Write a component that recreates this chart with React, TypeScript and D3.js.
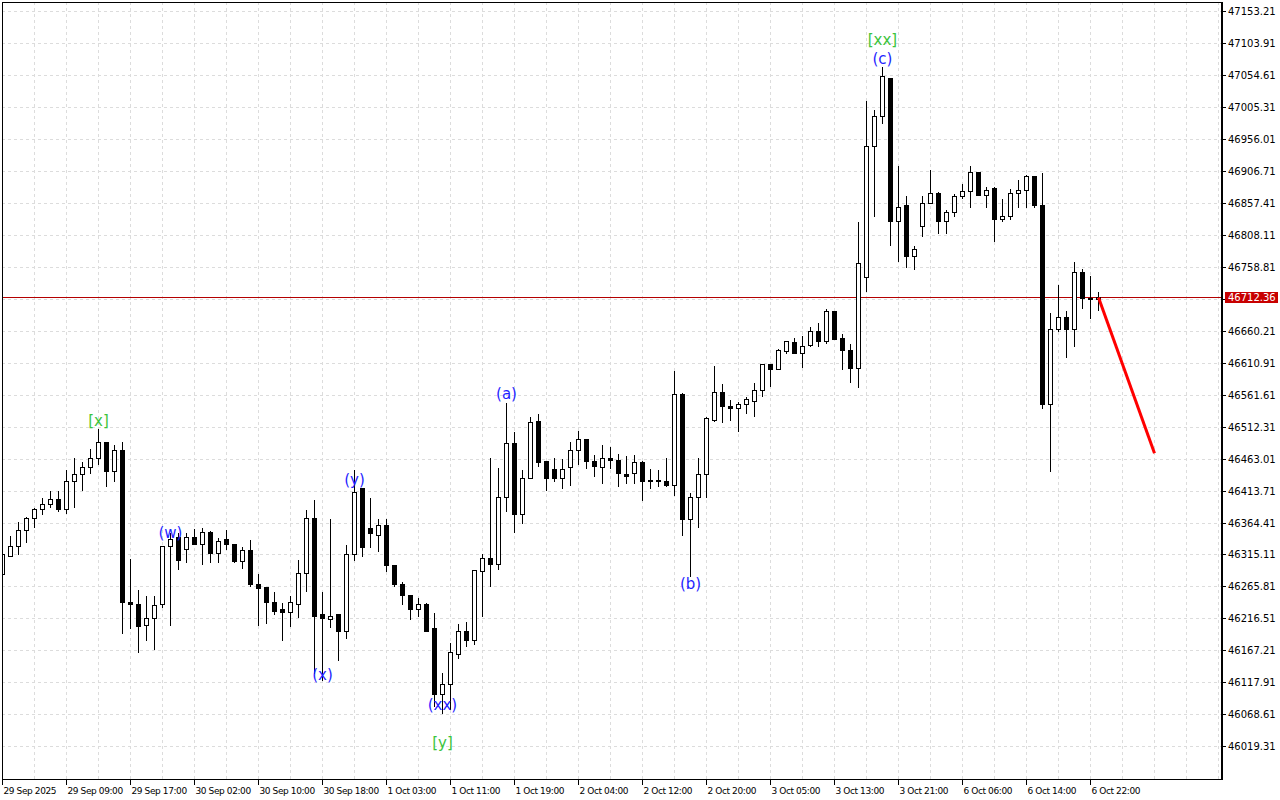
import * as d3 from 'd3';

// chart frame (px)
const W = 1280;
const H = 800;
const LEFT = 2;
const RIGHT = 1222;
const TOP = 2;
const BOTTOM = 779;

// H1 candles, 29 Sep 2025 .. 6 Oct 2025
const opens = [
  46284.2, 46313.5, 46328.9, 46352.1, 46370.6, 46384.5, 46393.7, 46401.4, 46386.0, 46427.7,
  46438.5, 46450.8, 46463.2, 46487.9, 46444.6, 46475.5, 46242.5, 46239.4, 46207.0, 46217.8,
  46239.4, 46327.4, 46341.3, 46322.8, 46341.3, 46330.5, 46350.5, 46316.6, 46338.2, 46332.0,
  46304.3, 46321.3, 46270.3, 46264.2, 46241.0, 46230.2, 46227.1, 46239.4, 46285.8, 46372.1,
  46222.5, 46216.3, 46222.5, 46196.3, 46315.1, 46416.9, 46356.7, 46345.9, 46361.3, 46298.2,
  46270.3, 46253.3, 46230.2, 46239.4, 46200.9, 46099.1, 46114.5, 46162.3, 46196.3, 46183.9,
  46288.9, 46308.9, 46299.7, 46403.0, 46486.3, 46378.3, 46432.3, 46520.3, 46458.6, 46446.2,
  46432.3, 46450.8, 46475.5, 46494.0, 46458.6, 46450.8, 46463.2, 46460.1, 46440.0, 46441.5,
  46457.0, 46430.7, 46430.7, 46429.2, 46423.0, 46563.4, 46369.1, 46404.5, 46438.5, 46523.3,
  46565.0, 46543.4, 46541.8, 46548.0, 46551.1, 46568.1, 46608.3, 46600.5, 46628.4, 46642.3,
  46625.4, 46639.0, 46659.1, 46643.9, 46690.0, 46648.3, 46630.0, 46602.1, 46743.9, 46944.5,
  46990.8, 47050.9, 46829.5, 46853.5, 46776.3, 46821.1, 46856.6, 46872.0, 46830.3, 46844.2,
  46867.4, 46876.6, 46904.4, 46870.4, 46879.7, 46833.4, 46838.0, 46872.0, 46878.1, 46898.2,
  46855.0, 46548.0, 46662.2, 46680.7, 46662.2, 46750.1, 46711.5, 46708.5,
];

const highs = [
  46318.1, 46344.4, 46366.0, 46375.2, 46387.6, 46404.5, 46413.8, 46413.8, 46446.2, 46464.7,
  46458.6, 46478.6, 46509.5, 46490.9, 46484.8, 46490.9, 46308.9, 46261.1, 46253.3, 46251.8,
  46327.4, 46349.0, 46349.0, 46349.0, 46356.7, 46358.2, 46353.6, 46342.8, 46355.1, 46332.0,
  46328.9, 46338.2, 46285.8, 46264.2, 46259.5, 46242.5, 46253.3, 46307.4, 46384.5, 46399.9,
  46258.0, 46370.6, 46222.5, 46330.5, 46446.2, 46416.9, 46404.5, 46370.6, 46370.6, 46298.2,
  46273.4, 46253.3, 46250.2, 46242.5, 46227.1, 46134.5, 46180.8, 46210.1, 46213.2, 46293.4,
  46318.1, 46464.7, 46450.8, 46549.6, 46504.9, 46447.7, 46528.0, 46532.6, 46458.6, 46464.7,
  46463.2, 46490.9, 46506.4, 46494.0, 46470.8, 46484.8, 46483.2, 46472.4, 46469.3, 46470.8,
  46460.1, 46449.2, 46446.2, 46464.7, 46599.0, 46566.5, 46410.7, 46464.7, 46528.0, 46606.7,
  46578.9, 46555.7, 46552.6, 46560.3, 46580.4, 46609.8, 46609.8, 46633.1, 46645.4, 46650.1,
  46653.1, 46668.3, 46674.5, 46694.6, 46693.0, 46656.0, 46640.6, 46830.3, 47015.5, 47001.6,
  47067.9, 47050.9, 46915.2, 46870.4, 46791.8, 46870.4, 46910.5, 46875.1, 46847.3, 46872.0,
  46887.4, 46915.2, 46905.9, 46882.8, 46884.3, 46865.8, 46879.7, 46893.6, 46901.3, 46898.2,
  46905.9, 46688.4, 46731.6, 46693.0, 46767.1, 46757.8, 46747.0, 46720.8,
];

const lows = [
  46279.6, 46312.0, 46315.1, 46333.6, 46358.2, 46376.8, 46389.1, 46382.9, 46379.8, 46387.6,
  46413.8, 46441.5, 46454.0, 46420.0, 46429.2, 46194.7, 46200.9, 46165.4, 46182.4, 46170.0,
  46234.8, 46207.0, 46293.4, 46302.8, 46330.5, 46299.7, 46302.8, 46302.8, 46324.3, 46302.8,
  46294.9, 46267.2, 46207.0, 46210.1, 46224.0, 46182.4, 46204.0, 46219.4, 46258.0, 46133.0,
  46122.2, 46202.5, 46151.6, 46187.0, 46305.9, 46312.0, 46325.9, 46319.7, 46288.9, 46265.7,
  46239.4, 46216.3, 46220.9, 46196.3, 46080.6, 46069.8, 46076.0, 46154.7, 46174.6, 46177.7,
  46220.9, 46265.7, 46293.4, 46381.4, 46350.5, 46364.4, 46432.3, 46452.3, 46413.8, 46429.2,
  46418.4, 46421.5, 46454.0, 46448.2, 46435.4, 46426.1, 46448.2, 46420.0, 46426.1, 46424.6,
  46398.4, 46416.9, 46420.0, 46420.0, 46407.6, 46344.4, 46282.6, 46358.2, 46404.5, 46520.3,
  46518.7, 46521.8, 46504.9, 46532.6, 46528.0, 46558.8, 46575.0, 46600.5, 46625.4, 46625.4,
  46603.7, 46636.0, 46636.0, 46640.6, 46646.8, 46600.5, 46580.4, 46572.7, 46722.3, 46838.0,
  46981.5, 46791.8, 46768.6, 46759.3, 46756.2, 46807.0, 46856.6, 46811.8, 46811.8, 46836.5,
  46865.8, 46851.9, 46868.9, 46851.9, 46799.3, 46828.8, 46833.4, 46850.4, 46850.4, 46851.9,
  46541.8, 46444.6, 46659.1, 46619.0, 46636.0, 46696.1, 46679.2, 46691.5,
];

const closes = [
  46315.1, 46328.9, 46352.1, 46370.6, 46384.5, 46393.7, 46401.4, 46386.0, 46427.7, 46438.5,
  46450.8, 46463.2, 46487.9, 46444.6, 46475.5, 46241.0, 46239.4, 46204.0, 46217.8, 46237.9,
  46327.4, 46339.7, 46305.9, 46341.3, 46330.5, 46350.5, 46316.6, 46336.6, 46332.0, 46304.3,
  46321.3, 46268.8, 46262.6, 46241.0, 46228.6, 46227.1, 46241.0, 46285.8, 46372.1, 46220.9,
  46217.8, 46220.9, 46196.3, 46315.1, 46412.2, 46325.9, 46347.5, 46361.3, 46298.2, 46270.3,
  46251.8, 46230.2, 46239.4, 46197.8, 46100.6, 46116.0, 46163.9, 46196.3, 46183.9, 46290.4,
  46308.9, 46299.7, 46403.0, 46486.3, 46378.3, 46432.3, 46518.7, 46457.0, 46432.3, 46432.3,
  46447.7, 46475.5, 46494.0, 46458.6, 46452.3, 46463.2, 46460.1, 46441.5, 46436.9, 46457.0,
  46429.2, 46427.7, 46427.7, 46423.0, 46563.4, 46369.1, 46404.5, 46440.0, 46524.9, 46565.0,
  46543.4, 46541.8, 46548.0, 46554.2, 46568.1, 46608.3, 46600.5, 46630.0, 46643.9, 46625.4,
  46636.0, 46659.1, 46643.9, 46690.0, 46646.8, 46630.0, 46602.1, 46764.0, 46944.5, 46990.8,
  47052.5, 46829.5, 46851.9, 46775.0, 46786.9, 46856.6, 46872.0, 46828.8, 46844.2, 46867.4,
  46876.6, 46904.4, 46870.4, 46878.1, 46831.9, 46838.0, 46872.0, 46878.1, 46898.2, 46853.5,
  46548.0, 46662.2, 46680.7, 46662.2, 46750.1, 46710.0, 46708.5, 46712.36,
];

const priceTicks = d3.range(24).map(i => +(47153.21 - 49.3 * i).toFixed(2));

const timeLabels = [
  '29 Sep 2025', '29 Sep 09:00', '29 Sep 17:00', '30 Sep 02:00', '30 Sep 10:00', '30 Sep 18:00',
  '1 Oct 03:00', '1 Oct 11:00', '1 Oct 19:00', '2 Oct 04:00', '2 Oct 12:00', '2 Oct 20:00',
  '3 Oct 05:00', '3 Oct 13:00', '3 Oct 21:00', '6 Oct 06:00', '6 Oct 14:00', '6 Oct 22:00',
];
const barsPerLabel = 8;

const lastPrice = 46712.36;

// Elliott wave marks
const waveTexts = ['[x]', '(w)', '(x)', '(y)', '(xx)', '[y]', '(a)', '(b)', '(c)', '[xx]'];
const waveBars = [12, 21, 40, 44, 55, 55, 63, 86, 110, 110];
const wavePrices = [46522.3, 46348.5, 46129.9, 46430.8, 46083.7, 46024.6, 46563.5, 46270.3, 47079.8, 47109.6];
const waveMajor = [true, false, false, false, false, true, false, false, false, true];

// forecast arrow
const forecastBars = [137, 144];
const forecastPrices = [46712.36, 46472.0];

const AXIS_FONT = '"DejaVu Sans", Verdana, sans-serif';

export default function App() {
  const x = d3.scaleLinear().domain([0, 137]).range([2.5, 2.5 + 8 * 137]);
  const y = d3.scaleLinear().domain([46019.31, 47153.21]).range([746.7, 11.7]);
  const py = (p: number) => Math.floor(y(p)) + 0.5;

  const gridXs = d3.range(0, 153, 4).map(k => x(k)).filter(v => v < RIGHT);
  const candles = d3.range(opens.length);

  const arrowLine = d3.line<number>()
    .x(i => x(forecastBars[i]))
    .y(i => y(forecastPrices[i]));

  const lastY = py(lastPrice);

  return (
    <svg
      width={W}
      height={H}
      style={{ position: 'fixed', left: 0, top: 0, background: '#fff', display: 'block' }}
    >
      <defs>
        <clipPath id="plot">
          <rect x={LEFT} y={TOP} width={RIGHT - LEFT} height={BOTTOM - TOP} />
        </clipPath>
      </defs>
      <rect x={0} y={0} width={W} height={H} fill="#fff" />

      <g clipPath="url(#plot)">
        {/* grid */}
        <g stroke="#dcdcdc" strokeWidth={1} strokeDasharray="3,3" shapeRendering="crispEdges">
          {priceTicks.map(t => (
            <line key={'h' + t} x1={LEFT} x2={RIGHT} y1={py(t)} y2={py(t)} />
          ))}
          {gridXs.map(gx => (
            <line key={'v' + gx} x1={gx} x2={gx} y1={TOP} y2={BOTTOM} />
          ))}
        </g>

        {/* bid line */}
        <line x1={LEFT} x2={RIGHT} y1={lastY} y2={lastY} stroke="#b40000" strokeWidth={1} shapeRendering="crispEdges" />

        {/* candles */}
        <g shapeRendering="crispEdges">
          {candles.map(i => {
            const cx = x(i);
            const o = opens[i], c = closes[i];
            const bull = c > o;
            const top = py(Math.max(o, c));
            const bot = py(Math.min(o, c));
            return (
              <g key={i}>
                <line x1={cx} x2={cx} y1={py(highs[i])} y2={py(lows[i])} stroke="#000" strokeWidth={1} />
                {bot - top < 1 ? (
                  <line x1={cx - 2.5} x2={cx + 2.5} y1={top} y2={top} stroke="#000" strokeWidth={1} />
                ) : (
                  <rect
                    x={cx - 2}
                    y={top}
                    width={4}
                    height={bot - top}
                    fill={bull ? '#fff' : '#000'}
                    stroke="#000"
                    strokeWidth={1}
                  />
                )}
              </g>
            );
          })}
        </g>

        {/* forecast */}
        <path d={arrowLine([0, 1]) || ''} stroke="#ff0000" strokeWidth={3} fill="none" />

        {/* wave labels */}
        {waveTexts.map((t, i) => (
          <text
            key={'w' + i}
            x={x(waveBars[i])}
            y={y(wavePrices[i])}
            textAnchor="middle"
            dominantBaseline="central"
            fontFamily={AXIS_FONT}
            fontSize={15}
            fill={waveMajor[i] ? '#3cc43c' : '#1f1fff'}
          >
            {t}
          </text>
        ))}
      </g>

      {/* frame */}
      <g stroke="#000" fill="none" shapeRendering="crispEdges">
        <line x1={LEFT} x2={RIGHT} y1={TOP + 0.5} y2={TOP + 0.5} strokeWidth={1} />
        <line x1={LEFT + 0.5} x2={LEFT + 0.5} y1={TOP} y2={BOTTOM} strokeWidth={1} />
        <line x1={LEFT} x2={RIGHT + 1} y1={BOTTOM + 0.5} y2={BOTTOM + 0.5} strokeWidth={1} />
        <line x1={RIGHT} x2={RIGHT} y1={TOP} y2={BOTTOM + 1} strokeWidth={2} />
      </g>

      {/* price axis */}
      <g fontFamily={AXIS_FONT} fontSize={10} fill="#000">
        {priceTicks.map(t => (
          <g key={'p' + t}>
            <line x1={RIGHT} x2={RIGHT + 4} y1={py(t)} y2={py(t)} stroke="#000" shapeRendering="crispEdges" />
            <text x={RIGHT + 6} y={py(t)} dominantBaseline="central">{t.toFixed(2)}</text>
          </g>
        ))}
        <rect x={RIGHT + 3} y={lastY - 5.5} width={53} height={11} fill="#c80000" />
        <text x={RIGHT + 6} y={lastY} dominantBaseline="central" fill="#fff">{lastPrice.toFixed(2)}</text>
      </g>

      {/* time axis */}
      <g fontFamily={AXIS_FONT} fontSize={9} fill="#000" letterSpacing={-0.4}>
        {timeLabels.map((t, i) => {
          const tx = Math.floor(x(i * barsPerLabel)) + 0.5;
          return (
            <g key={'t' + i}>
              <line x1={tx} x2={tx} y1={BOTTOM} y2={BOTTOM + 6} stroke="#000" shapeRendering="crispEdges" />
              <text x={tx + 1} y={794}>{t}</text>
            </g>
          );
        })}
      </g>
    </svg>
  );
}
